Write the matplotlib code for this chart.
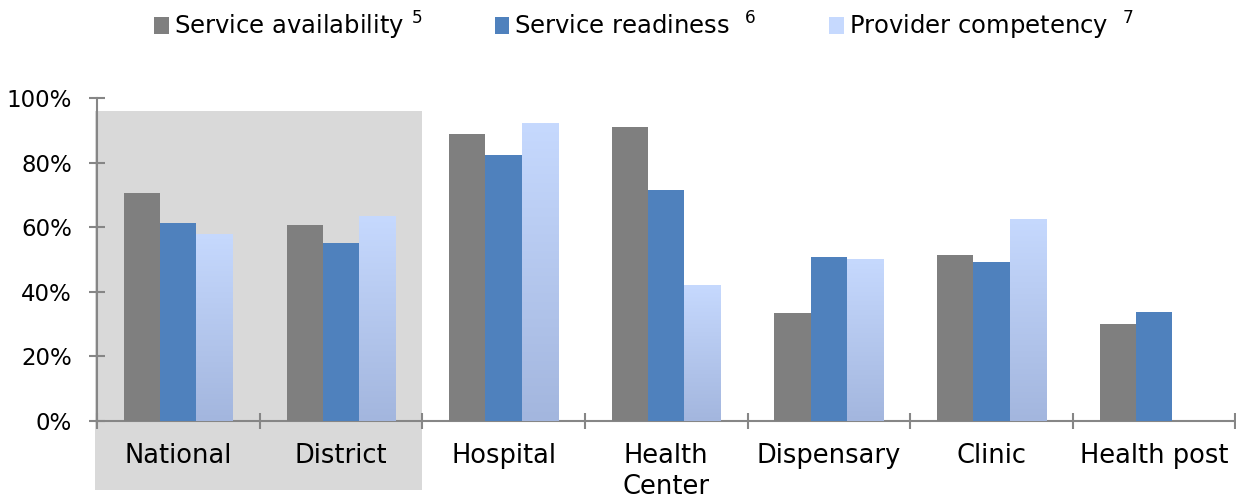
import numpy as np
import matplotlib
matplotlib.use("Agg")
import matplotlib.pyplot as plt
from matplotlib.patches import Rectangle, Patch
from matplotlib.colors import LinearSegmentedColormap

plt.rcParams['font.family'] = ['DejaVu Sans']
plt.rcParams['mathtext.default'] = 'regular'

categories = ["National", "District", "Hospital", "Health\nCenter", "Dispensary", "Clinic", "Health post"]
service_availability = [70.7, 60.8, 88.9, 91.1, 33.3, 51.4, 30.0]
service_readiness = [61.2, 55.2, 82.4, 71.6, 50.9, 49.2, 33.8]
provider_competency = [58.0, 63.5, 92.3, 42.1, 50.2, 62.6, np.nan]
series_labels = ["Service availability $^{5}$", "Service readiness  $^{6}$", "Provider competency  $^{7}$"]
yticks = [0, 20, 40, 60, 80, 100]

c_gray = "#7f7f7f"
c_blue = "#4f81bd"
c_light_top = "#c6d9fe"
c_light_bot = "#a3b6de"
axis_col = "#868686"

fig = plt.figure(figsize=(12.36, 4.98), dpi=100)
ax = fig.add_axes([0.0785, 0.155, 0.921, 0.648])
ax.set_facecolor('none')

x = np.arange(len(categories))
w = 0.223
ax.bar(x - w, service_availability, w, color=c_gray, zorder=3)
ax.bar(x, service_readiness, w, color=c_blue, zorder=3)
light = ax.bar(x + w, np.nan_to_num(provider_competency), w, color=c_light_bot, zorder=3)

cmap = LinearSegmentedColormap.from_list("g", [c_light_bot, c_light_top])
grad = np.linspace(0, 1, 256).reshape(-1, 1)
for p in light:
    h = p.get_height()
    if h <= 0:
        p.set_visible(False)
        continue
    x0 = p.get_x()
    im = ax.imshow(grad, cmap=cmap, origin='lower', aspect='auto',
                   extent=[x0, x0 + p.get_width(), 0, h], zorder=3.5)
    im.set_clip_path(p)

ax.set_xlim(-0.5, len(categories) - 0.5)
ax.set_ylim(0, 100)

# shaded background for National / District
ax.add_patch(Rectangle((-0.51, -21.5), 2.01, 117.5, facecolor="#d9d9d9",
                       edgecolor='none', zorder=0, clip_on=False))

for s in ['top', 'right']:
    ax.spines[s].set_visible(False)
for s in ['left', 'bottom']:
    ax.spines[s].set_color(axis_col)
    ax.spines[s].set_linewidth(1.5)

ax.set_yticks(yticks)
ax.set_yticklabels([f"{v}%" for v in yticks])
ax.tick_params(axis='y', direction='inout', length=12, width=1.5, color=axis_col,
               labelsize=16.5, pad=12)
ax.set_xticks(np.arange(len(categories) + 1) - 0.5)
ax.set_xticklabels([])
ax.set_xticks(x, minor=True)
ax.set_xticklabels(categories, minor=True, fontsize=18.5, linespacing=1.25)
ax.tick_params(axis='x', which='major', direction='inout', length=12, width=1.5, color=axis_col)
ax.tick_params(axis='x', which='minor', length=0, pad=16)

handles = [Patch(facecolor=c_gray), Patch(facecolor=c_blue), Patch(facecolor=c_light_top)]
fig.legend(handles, series_labels, loc='upper center', bbox_to_anchor=(0.521, 1.025),
           ncol=3, frameon=False, fontsize=17.5, handlelength=0.6, handleheight=0.7,
           handletextpad=0.2, columnspacing=3.0)

fig.savefig("out.png", dpi=100)
